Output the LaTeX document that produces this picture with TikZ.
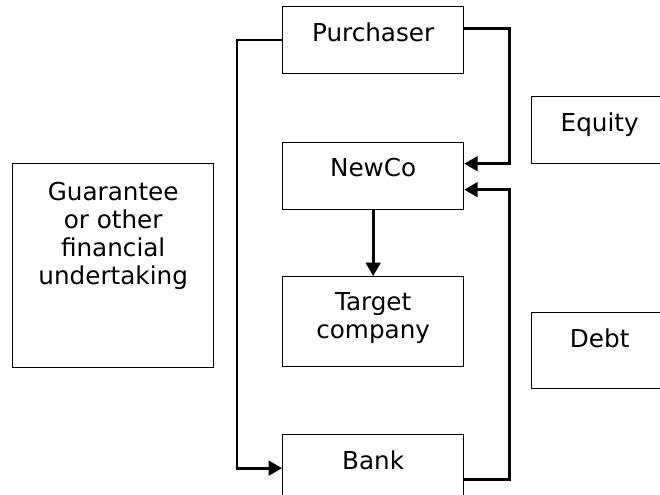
\documentclass[tikz,border=0pt]{standalone}
\usepackage{fontspec}
\setmainfont{DejaVu Sans}
\usetikzlibrary{arrows.meta}
\usetikzlibrary{calc}

\begin{document}
\begin{tikzpicture}[x=0.75pt,y=0.75pt,yscale=-1,xscale=1,
  font=\fontsize{18.5}{21}\selectfont,
  box/.style={draw, line width=1pt, anchor=north west, inner sep=0pt, minimum width=135.75pt, minimum height=50.25pt},
  lbl/.style={anchor=north, inner sep=0pt, align=center, yshift=-12pt},
  conn/.style={line width=2pt, -{Triangle[length=10pt,width=11pt]}}]
\useasboundingbox (0,0) rectangle (660,495);
\clip (0,0) rectangle (660,495);

%Shape: Rectangle (middle column)
\node [box, label={[lbl]north:Purchaser}] (purch) at (282,6) {};
\node [box, label={[lbl]north:NewCo}] (newco) at (282,142) {};
\node [box, minimum height=67.5pt, label={[lbl]north:Target\\company}] (target) at (282,276) {};
\node [box, label={[lbl]north:Bank}] (bank) at (282,434) {};

%Shape: Rectangle (right column)
\node [box, minimum width=102pt, label={[lbl]north:Equity}] (equity) at (531,96) {};
\node [box, minimum width=102pt, minimum height=57pt, label={[lbl]north:Debt}] (debt) at (531,312) {};

%Shape: Rectangle (left)
\node [box, minimum width=150.75pt, minimum height=153pt, label={[lbl,yshift=-2.5pt]north:Guarantee\\or other\\financial\\undertaking}] (guar) at (12,163) {};

%Connectors
\draw [conn] (purch.west) -- ++(-45,0) |- (bank.west);
\draw [conn] ($(purch.east)+(0,-11.5)$) -- ++(45,0) |- ($(newco.east)+(0,-12.5)$);
\draw [conn] ($(bank.east)+(0,11.5)$) -- ++(45,0) |- ($(newco.east)+(0,13.5)$);
\draw [conn] (newco.south) -- (target.north);

\end{tikzpicture}
\end{document}
